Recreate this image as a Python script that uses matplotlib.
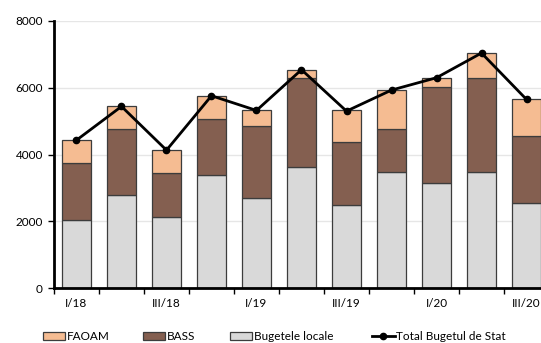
import numpy as np
import matplotlib.pyplot as plt

plt.rcParams['font.family'] = ['Lato', 'DejaVu Sans']

# Quarterly data, mil. lei
quarters = ["I/18", "II/18", "III/18", "IV/18", "I/19", "II/19",
            "III/19", "IV/19", "I/20", "II/20", "III/20"]
bugetele_locale = [2050, 2780, 2130, 3380, 2700, 3620, 2500, 3490, 3150, 3480, 2540]
bass = [1700, 1970, 1320, 1690, 2160, 2670, 1880, 1270, 2880, 2810, 2000]
faoam = [680, 690, 680, 680, 470, 240, 940, 1170, 260, 750, 1120]
total_bugetul_de_stat = [4430, 5440, 4130, 5760, 5320, 6540, 5300, 5930, 6300, 7040, 5650]

x = np.arange(len(quarters))
base2 = np.array(bugetele_locale) + np.array(bass)

fig = plt.figure(figsize=(5.41, 3.43), dpi=100)
ax = fig.add_axes([0.0998, 0.1603, 0.915, 0.7785])

edge = dict(edgecolor='#3c3c3c', linewidth=0.9, width=0.66)
b1 = ax.bar(x, bugetele_locale, color='#d9d9d9', **edge)
b2 = ax.bar(x, bass, bottom=bugetele_locale, color='#845f50', **edge)
b3 = ax.bar(x, faoam, bottom=base2, color='#f5bc92', **edge)
ln, = ax.plot(x, total_bugetul_de_stat, color='black', linewidth=2,
              marker='o', markersize=4.5)

ax.set_xlim(-0.5, len(quarters) - 0.5)
ax.set_ylim(0, 8000)
ax.set_yticks([0, 2000, 4000, 6000, 8000])
ax.yaxis.grid(True, color='#e6e6e6', linewidth=1)
ax.set_axisbelow(True)

# labels under every second bar, tick marks at bar boundaries
ax.set_xticks(x[::2])
ax.set_xticklabels(quarters[::2])
ax.tick_params(axis='x', which='major', length=0, pad=7)
ax.set_xticks(np.arange(-0.5, len(quarters), 1), minor=True)
ax.tick_params(axis='x', which='minor', length=4, width=1, direction='out')
ax.tick_params(axis='y', length=4, width=1, pad=4)
ax.tick_params(labelsize=8.5, colors='black')

for s in ['top', 'right']:
    ax.spines[s].set_visible(False)
ax.spines['left'].set_linewidth(2)
ax.spines['bottom'].set_linewidth(2)

# one legend entry per slot along the bottom
entries = [(b3, 'FAOAM', 0.0795), (b2, 'BASS', 0.264),
           (b1, 'Bugetele locale', 0.425), (ln, 'Total Bugetul de Stat', 0.688)]
for handle, text, xpos in entries:
    fig.legend([handle], [text], loc='center left', bbox_to_anchor=(xpos, 0.019),
               frameon=False, fontsize=8.5, handlelength=1.9, handleheight=0.6,
               handletextpad=0.1, borderpad=0, borderaxespad=0)

fig.savefig('out.png', dpi=100)
